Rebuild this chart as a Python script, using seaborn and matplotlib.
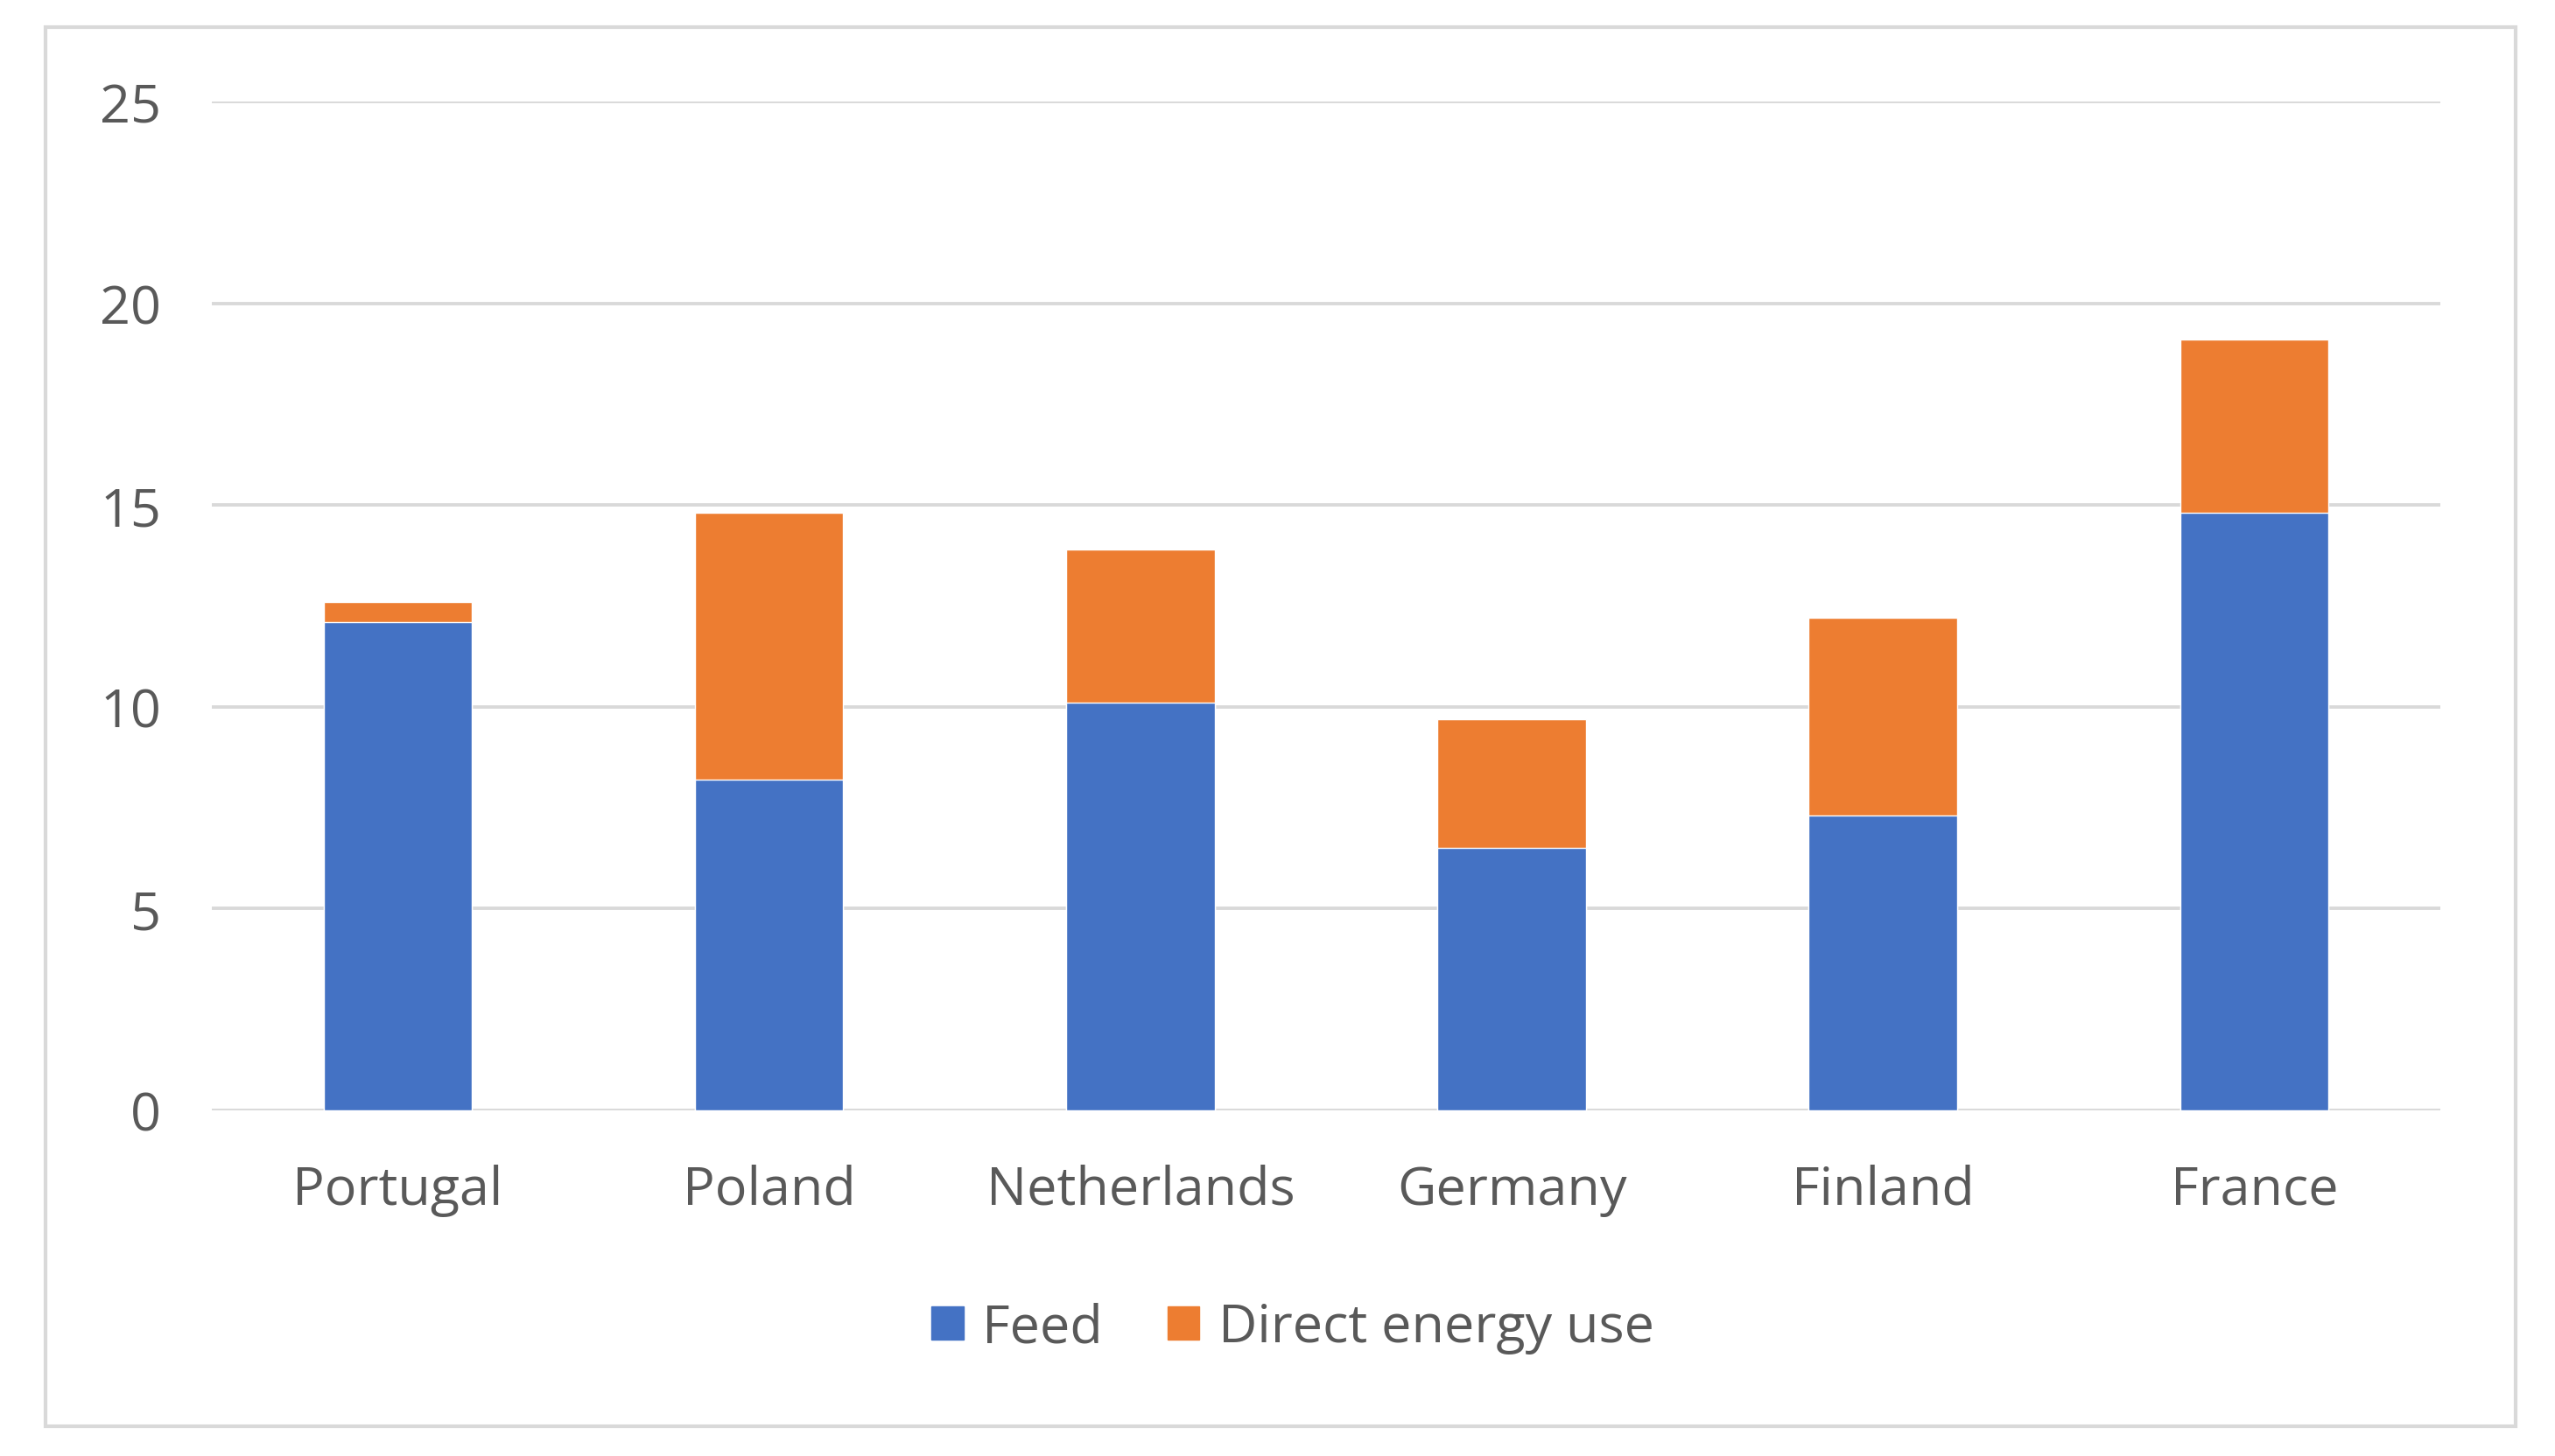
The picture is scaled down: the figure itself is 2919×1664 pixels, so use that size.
import pandas as pd
import matplotlib.pyplot as plt
import seaborn as sns
from matplotlib.patches import Patch, Rectangle

countries = ['Portugal', 'Poland', 'Netherlands', 'Germany', 'Finland', 'France']
feed = [12.1, 8.2, 10.1, 6.5, 7.3, 14.8]
direct_energy = [0.5, 6.6, 3.8, 3.2, 4.9, 4.3]
y_ticks = [0, 5, 10, 15, 20, 25]

blue = '#4472C4'
orange = '#ED7D31'
text_grey = '#595959'
grid_grey = '#D9D9D9'

df = pd.DataFrame({'country': countries, 'feed': feed, 'direct': direct_energy})
df['total'] = df['feed'] + df['direct']

sns.set_style('white')
plt.rcParams['font.family'] = ['Open Sans', 'DejaVu Sans']

fig = plt.figure(figsize=(29.19, 16.65), dpi=100)
ax = fig.add_axes([0.083, 0.2375, 0.872, 0.692])

# stacked: total in orange first, feed in blue on top of it
sns.barplot(data=df, x='country', y='total', color=orange, width=0.4,
            saturation=1, ax=ax, zorder=3)
sns.barplot(data=df, x='country', y='feed', color=blue, width=0.4,
            saturation=1, ax=ax, zorder=3)

ax.set_ylim(0, 25)
ax.set_yticks(y_ticks)
ax.set_xlim(-0.5, len(countries) - 0.5)
ax.yaxis.grid(True, color=grid_grey, linewidth=2.8, zorder=0)
ax.set_axisbelow(True)
for s in ax.spines.values():
    s.set_visible(False)
ax.set_xlabel('')
ax.set_ylabel('')
ax.tick_params(axis='both', length=0, labelsize=44, colors=text_grey)
ax.tick_params(axis='y', pad=42)
ax.tick_params(axis='x', pad=44)

handles = [Patch(color=blue, label='Feed'), Patch(color=orange, label='Direct energy use')]
leg = fig.legend(handles=handles, loc='center', bbox_to_anchor=(0.506, 0.088), ncol=2,
                 frameon=False, fontsize=44, handlelength=0.6, handleheight=0.6,
                 handletextpad=0.35, columnspacing=1.2)
for t in leg.get_texts():
    t.set_color(text_grey)

# outer chart border
fig.patches.append(Rectangle((52 / 2919, 1 - 1631 / 1665), (2874 - 52) / 2919, (1631 - 32) / 1665,
                             transform=fig.transFigure, fill=False,
                             edgecolor=grid_grey, linewidth=3))

fig.savefig('out.png', dpi=100, facecolor='white')
